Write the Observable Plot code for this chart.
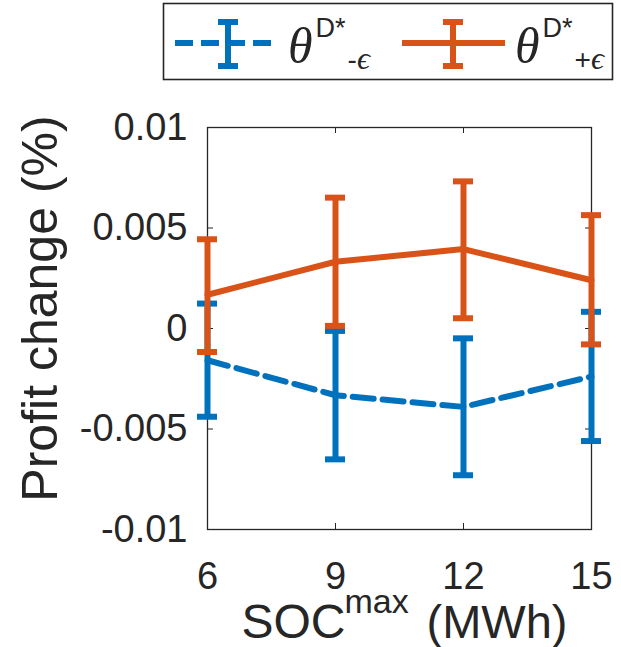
<!DOCTYPE html>
<html>
<head>
<meta charset="utf-8">
<script src="https://cdn.jsdelivr.net/npm/d3@7"></script>
<script src="https://cdn.jsdelivr.net/npm/@observablehq/plot@0.6"></script>
<style>
  html, body { margin: 0; padding: 0; background: white; }
  #wrap { position: relative; width: 621px; height: 647px; overflow: hidden; }
  #legend { position: absolute; left: 0; top: 0; }
</style>
</head>
<body>
<div id="wrap"></div>
<script>
// ---- data ----
const socMax = [6, 9, 12, 15];
const xTicks = [6, 9, 12, 15];
const yTicks = [-0.01, -0.005, 0, 0.005, 0.01];

// theta^{D*} - epsilon  (blue, dashed)
const minusMean = [-0.00158, -0.00332, -0.00390, -0.00239];
const minusLow  = [-0.00439, -0.00651, -0.00730, -0.00560];
const minusHigh = [ 0.00124, -0.00012, -0.00049,  0.00083];

// theta^{D*} + epsilon  (orange, solid)
const plusMean = [0.00168, 0.00332, 0.00395, 0.00240];
const plusLow  = [-0.00117, 0.00013, 0.00051, -0.00079];
const plusHigh = [0.00444, 0.00651, 0.00732, 0.00564];

const BLUE = "#0072BD";
const ORANGE = "#D95319";
const INK = "#262626";

const minusRows = socMax.map((x, i) => ({x, mean: minusMean[i], lo: minusLow[i], hi: minusHigh[i]}));
const plusRows  = socMax.map((x, i) => ({x, mean: plusMean[i],  lo: plusLow[i],  hi: plusHigh[i]}));

const W = 621, H = 647, ML = 207, MR = 30, MT = 127, MB = 118;
const PW = W - ML - MR, PH = H - MT - MB, TK = 6;

function errorMarks(rows, color) {
  return [
    Plot.ruleX(rows, {x: "x", y1: "lo", y2: "hi", stroke: color, strokeWidth: 6}),
    Plot.ruleY(rows, {y: "lo", x1: "x", x2: "x", insetLeft: -10, insetRight: -10, stroke: color, strokeWidth: 6}),
    Plot.ruleY(rows, {y: "hi", x1: "x", x2: "x", insetLeft: -10, insetRight: -10, stroke: color, strokeWidth: 6})
  ];
}

const chart = Plot.plot({
  width: W, height: H,
  marginLeft: ML, marginRight: MR, marginTop: MT, marginBottom: MB,
  style: {fontFamily: "'Liberation Sans', Arial, Helvetica, sans-serif", fontSize: "38px", color: INK, background: "white"},
  x: {domain: [6, 15], ticks: xTicks, tickFormat: d => String(d), label: null},
  y: {domain: [-0.01, 0.01], ticks: yTicks, tickFormat: d => String(d), label: null},
  marks: [
    // inward ticks on all four sides
    Plot.tickX(xTicks, {x: d => d, insetTop: PH - TK, stroke: INK, strokeWidth: 1}),
    Plot.tickX(xTicks, {x: d => d, insetBottom: PH - TK, stroke: INK, strokeWidth: 1}),
    Plot.tickY(yTicks, {y: d => d, insetRight: PW - TK, stroke: INK, strokeWidth: 1}),
    Plot.tickY(yTicks, {y: d => d, insetLeft: PW - TK, stroke: INK, strokeWidth: 1}),
    Plot.frame({stroke: INK, strokeWidth: 1.3}),
    Plot.axisX({ticks: xTicks, tickSize: 0, tickPadding: 33, tickFormat: d => String(d), label: null, fontSize: 38}),
    Plot.axisY({ticks: yTicks, tickSize: 0, tickPadding: 20, tickFormat: d => String(d), label: null, fontSize: 38}),
    // series
    Plot.line(minusRows, {x: "x", y: "mean", stroke: BLUE, strokeWidth: 6, strokeDasharray: "21,9"}),
    ...errorMarks(minusRows, BLUE),
    Plot.line(plusRows, {x: "x", y: "mean", stroke: ORANGE, strokeWidth: 6}),
    ...errorMarks(plusRows, ORANGE),
    // axis labels
    Plot.text(["Profit change (%)"], {frameAnchor: "left", dx: -167, dy: -20, rotate: -90, textAnchor: "middle", lineAnchor: "middle", fontSize: 50, fill: INK}),
    Plot.text(["SOC"], {frameAnchor: "bottom-left", dx: 34, dy: 108, textAnchor: "start", lineAnchor: "bottom", fontSize: 48, fill: INK}),
    Plot.text(["max"], {frameAnchor: "bottom-left", dx: 137, dy: 83, textAnchor: "start", lineAnchor: "bottom", fontSize: 34, fill: INK}),
    Plot.text(["(MWh)"], {frameAnchor: "bottom-left", dx: 219, dy: 108, textAnchor: "start", lineAnchor: "bottom", fontSize: 47, fill: INK})
  ]
});

const wrap = document.getElementById("wrap");
wrap.appendChild(chart);

// ---- legend ----
const leg = d3.select(wrap).append("svg")
  .attr("id", "legend").attr("width", W).attr("height", 90);
leg.append("rect").attr("x", 163.5).attr("y", 3.5).attr("width", 449).attr("height", 76)
  .attr("fill", "white").attr("stroke", INK).attr("stroke-width", 1.6);

function legendItem(x0, x1, xc, color, dash, sign) {
  const y = 43;
  const g = leg.append("g").attr("stroke", color).attr("stroke-width", 6).attr("fill", "none");
  g.append("line").attr("x1", x0).attr("x2", x1).attr("y1", y).attr("y2", y).attr("stroke-dasharray", dash);
  g.append("line").attr("x1", xc).attr("x2", xc).attr("y1", 22).attr("y2", 66);
  g.append("line").attr("x1", xc - 10).attr("x2", xc + 10).attr("y1", 22).attr("y2", 22);
  g.append("line").attr("x1", xc - 10).attr("x2", xc + 10).attr("y1", 66).attr("y2", 66);
  const t = leg.append("text").attr("x", x1 + 10).attr("y", 63).attr("fill", INK);
  t.append("tspan").attr("font-family", "'Liberation Serif', 'DejaVu Serif', serif").attr("font-style", "italic").attr("font-size", 50).text("θ");
  t.append("tspan").attr("font-family", "'Liberation Sans', Arial, sans-serif").attr("font-size", 27).attr("dy", -26).attr("dx", 3).text("D*");
  t.append("tspan").attr("font-family", "'Liberation Sans', Arial, sans-serif").attr("font-size", 28).attr("dy", 32).attr("dx", 2).text(sign);
  t.append("tspan").attr("font-family", "'Liberation Serif', 'DejaVu Serif', serif").attr("font-style", "italic").attr("font-size", 32).text("ϵ");
}
legendItem(175, 278, 228, BLUE, "18,8", "-");
legendItem(402, 505, 453, ORANGE, null, "+");
</script>
</body>
</html>
